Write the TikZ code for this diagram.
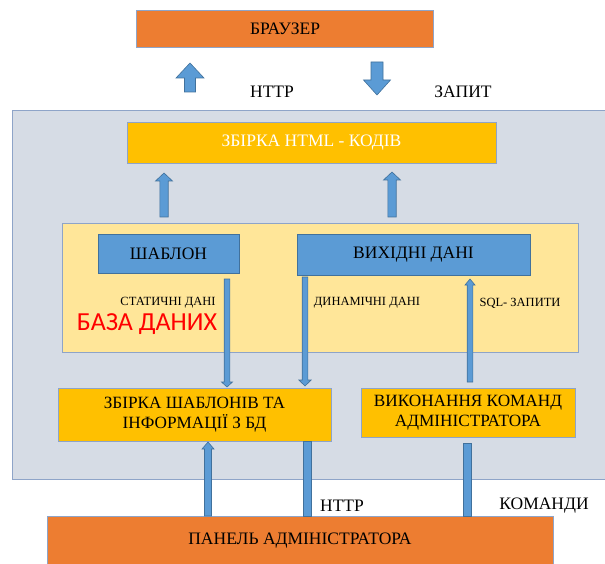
\documentclass[tikz,border=0pt]{standalone}
\usepackage{fontspec}
\setmainfont{Liberation Serif}
\newfontfamily\calib{Carlito}
\definecolor{orng}{HTML}{ED7D31}
\definecolor{gold}{HTML}{FFC000}
\definecolor{lyel}{HTML}{FFE699}
\definecolor{bblue}{HTML}{5B9BD5}
\definecolor{bbord}{HTML}{41719C}
\definecolor{gbg}{HTML}{D6DCE5}
\definecolor{gbord}{HTML}{8EA4C8}
\newcommand\varr[6]{% x, tail y, tip y, shaft half, head half, head length
  \pgfmathsetmacro\dir{(#3>#2)?1:-1}
  \pgfmathsetmacro\hb{#3-\dir*#6}
  \filldraw[fill=bblue,draw=bbord,line width=0.6pt]
    (#1-#4,#2) -- (#1-#4,\hb) -- (#1-#5,\hb) -- (#1,#3) -- (#1+#5,\hb) -- (#1+#4,\hb) -- (#1+#4,#2) -- cycle;}
\newcommand\vbar[4]{\filldraw[fill=bblue,draw=bbord,line width=0.6pt] (#1-#4,#2) rectangle (#1+#4,#3);}
\tikzset{
  box/.style={draw=gbord,line width=0.8pt,inner sep=0pt,align=center,font=\fontsize{17.5}{20}\selectfont},
  lbl/.style={inner sep=0pt,font=\fontsize{17.5}{20}\selectfont},
  small/.style={inner sep=0pt,font=\fontsize{12.5}{14}\selectfont}
}
\begin{document}
\begin{tikzpicture}[x=1pt,y=-1pt]
\useasboundingbox (0,0) rectangle (605,564);
% container
\node[box,fill=gbg,minimum width=596,minimum height=369] (cont) at (310,294.5) {};
% browser
\node[box,fill=orng,minimum width=297,minimum height=37] (br) at (285,29) {БРАУЗЕР};
\node[box,fill=gold,draw=gbord,minimum width=369,minimum height=41,text=white] (html) at (311.5,142.5) {ЗБІРКА HTML - КОДІВ};
\node[box,fill=lyel,minimum width=516,minimum height=129] (db) at (320,287.5) {};
\node[box,fill=bblue,draw=bbord,minimum width=141,minimum height=39] (tpl) at (168.5,253.5) {ШАБЛОН};
\node[box,fill=bblue,draw=bbord,minimum width=233,minimum height=41] (out) at (413.5,254.5) {ВИХІДНІ ДАНІ};
\node[box,fill=gold,minimum width=273,minimum height=53,font=\fontsize{17.2}{20.5}\selectfont] (zb) at (194.5,414.5) {ЗБІРКА ШАБЛОНІВ ТА\\ІНФОРМАЦІЇ З БД};
\node[box,fill=gold,minimum width=214,minimum height=49,font=\fontsize{17.2}{20.5}\selectfont] (vk) at (468,412.5) {ВИКОНАННЯ КОМАНД\\АДМІНІСТРАТОРА};
\node[box,fill=orng,minimum width=506,minimum height=50] (pan) at (300,541) {ПАНЕЛЬ АДМІНІСТРАТОРА};
% labels
\node[lbl] (l1) at (272,92) {HTTP};
\node[lbl] (l2) at (463,92) {ЗАПИТ};
\node[lbl] (l3) at (342,506) {HTTP};
\node[lbl] (l4) at (544,506) {КОМАНДИ};
\node[small] (s1) at (168,303) {СТАТИЧНІ ДАНІ};
\node[small] (s2) at (367,303) {ДИНАМІЧНІ ДАНІ};
\node[small] (s3) at (520,303) {SQL- ЗАПИТИ};
\node[inner sep=0pt,text=red,font=\calib\fontsize{26}{28}\selectfont] (bd) at (147,324) {БАЗА ДАНИХ};
% arrows
\varr{190}{92}{63}{5.5}{14}{15}
\varr{377}{62}{95}{6}{13.5}{15}
\varr{164}{217}{173}{4.2}{8.5}{8}
\varr{392}{217}{172}{4.2}{8.5}{8}
\varr{227}{279}{387}{2.8}{5.5}{5}
\varr{305}{277}{386}{2.8}{6.2}{6}
\varr{470}{382}{279}{2.8}{5}{6}
\varr{208}{516}{442}{3.5}{6}{7}
\vbar{307}{441}{516}{3.8}
\vbar{467}{443}{516}{3.8}
\end{tikzpicture}
\end{document}
